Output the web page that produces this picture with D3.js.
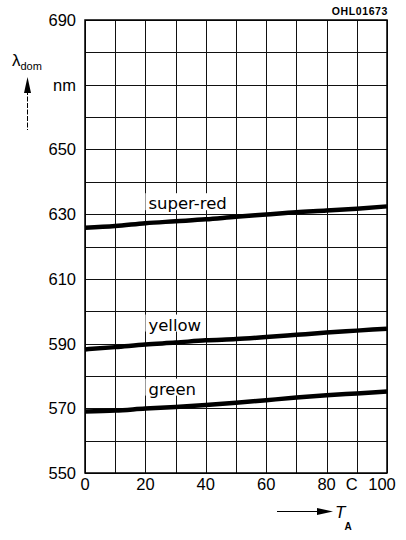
<!DOCTYPE html>
<html>
<head>
<meta charset="utf-8">
<script src="https://cdn.jsdelivr.net/npm/d3@7"></script>
<style>
  body { margin: 0; background: #fff; }
  svg { display: block; }
  .tick-label { font-family: "Liberation Sans", Arial, sans-serif; font-size: 16.5px; fill: #000; }
  .series-label { font-family: "DejaVu Sans", sans-serif; font-size: 16.5px; fill: #000; }
</style>
</head>
<body>
<script>
// temperature T_A in °C
const temps = [0, 10, 20, 30, 40, 50, 60, 70, 80, 90, 100];
// dominant wavelength, nm
const superRed = [625.8, 626.3, 627.2, 627.8, 628.4, 629.2, 629.9, 630.6, 631.1, 631.7, 632.4];
const yellow   = [588.2, 588.9, 589.7, 590.3, 591.0, 591.4, 592.0, 592.7, 593.4, 594.0, 594.6];
const green    = [569.0, 569.3, 569.9, 570.4, 571.0, 571.7, 572.5, 573.3, 574.0, 574.6, 575.2];
const seriesNames = ['super-red', 'yellow', 'green'];
const seriesValues = [superRed, yellow, green];

const xTicks = [0, 20, 40, 60, 80, 90, 100];
const xTickLabels = ['0', '20', '40', '60', '80', 'C', '100'];
const yTicks = [550, 570, 590, 610, 630, 650, 670, 690];
const yTickLabels = ['550', '570', '590', '610', '630', '650', 'nm', '690'];

const W = 406, H = 540;
const svg = d3.select('body').append('svg')
  .attr('width', W)
  .attr('height', H);

const x = d3.scaleLinear().domain([0, 100]).range([85, 387]);
const y = d3.scaleLinear().domain([550, 690]).range([473, 20]);

// grid, every 10 in both directions
const grid = svg.append('g').attr('stroke', '#111').attr('stroke-width', 1);
grid.selectAll('line.v')
  .data(d3.range(0, 101, 10))
  .join('line')
  .attr('x1', d => Math.round(x(d)) + 0.5)
  .attr('x2', d => Math.round(x(d)) + 0.5)
  .attr('y1', y(690))
  .attr('y2', y(550));
grid.selectAll('line.h')
  .data(d3.range(550, 691, 10))
  .join('line')
  .attr('y1', d => Math.round(y(d)) + 0.5)
  .attr('y2', d => Math.round(y(d)) + 0.5)
  .attr('x1', x(0))
  .attr('x2', x(100));
svg.append('rect')
  .attr('x', x(0)).attr('y', y(690))
  .attr('width', x(100) - x(0)).attr('height', y(550) - y(690))
  .attr('fill', 'none').attr('stroke', '#000').attr('stroke-width', 1.5);

// curves
const line = d3.line()
  .x((d, i) => x(temps[i]))
  .y(d => y(d))
  .curve(d3.curveMonotoneX);
svg.append('g').selectAll('path')
  .data(seriesValues)
  .join('path')
  .attr('d', line)
  .attr('fill', 'none')
  .attr('stroke', '#000')
  .attr('stroke-width', 4.5);

// series labels with white backing
seriesNames.forEach((name, i) => {
  let g = svg.append('g');
  let t = g.append('text')
    .classed('series-label', true)
    .attr('x', x(21))
    .attr('y', y(seriesValues[i][2]) - 14)
    .text(name);
  let bb = t.node().getBBox();
  g.insert('rect', 'text')
    .attr('x', bb.x - 3).attr('y', bb.y - 1)
    .attr('width', bb.width + 6).attr('height', bb.height - 2)
    .attr('fill', '#fff');
});

// tick labels
svg.append('g').selectAll('text')
  .data(yTicks)
  .join('text')
  .classed('tick-label', true)
  .attr('x', x(0) - 9)
  .attr('y', d => y(d))
  .attr('dy', '0.36em')
  .attr('text-anchor', 'end')
  .text((d, i) => yTickLabels[i]);

svg.append('g').selectAll('text')
  .data(xTicks)
  .join('text')
  .classed('tick-label', true)
  .attr('x', d => x(d) - (d == 100 ? 5 : d == 90 ? 5 : 0))
  .attr('y', y(550) + 17)
  .attr('text-anchor', 'middle')
  .text((d, i) => xTickLabels[i]);

// y-axis title: lambda_dom with arrow
const ylab = svg.append('text')
  .attr('x', 12).attr('y', 66)
  .attr('font-family', '"Liberation Sans", Arial, sans-serif')
  .attr('font-size', 17);
ylab.append('tspan').text('λ');
ylab.append('tspan').attr('dy', 4).attr('font-size', 11).text('dom');

svg.append('line')
  .attr('x1', 27.5).attr('x2', 27.5)
  .attr('y1', 90).attr('y2', 130)
  .attr('stroke', '#000').attr('stroke-width', 1)
  .attr('stroke-dasharray', '5,1.5');
svg.append('path')
  .attr('d', 'M27.5,77 L31,93 L24,93 Z')
  .attr('fill', '#000');

// x-axis title: arrow and T_A
svg.append('line')
  .attr('x1', 277).attr('x2', 320)
  .attr('y1', 511.5).attr('y2', 511.5)
  .attr('stroke', '#000').attr('stroke-width', 1);
svg.append('path')
  .attr('d', 'M333,511.5 L317,508 L317,515 Z')
  .attr('fill', '#000');
const xlab = svg.append('text')
  .attr('x', 335).attr('y', 518)
  .attr('font-family', '"Liberation Sans", Arial, sans-serif')
  .attr('font-size', 17)
  .attr('font-style', 'italic');
xlab.append('tspan').text('T');
xlab.append('tspan').attr('dy', 12).attr('dx', -1).attr('font-size', 10)
  .attr('font-style', 'normal').attr('font-weight', 'bold').text('A');

// figure code
svg.append('text')
  .attr('x', 388).attr('y', 15)
  .attr('text-anchor', 'end')
  .attr('font-family', '"Liberation Sans", Arial, sans-serif')
  .attr('font-size', 10.5)
  .attr('font-weight', 'bold')
  .attr('letter-spacing', 0.6)
  .text('OHL01673');
</script>
</body>
</html>
